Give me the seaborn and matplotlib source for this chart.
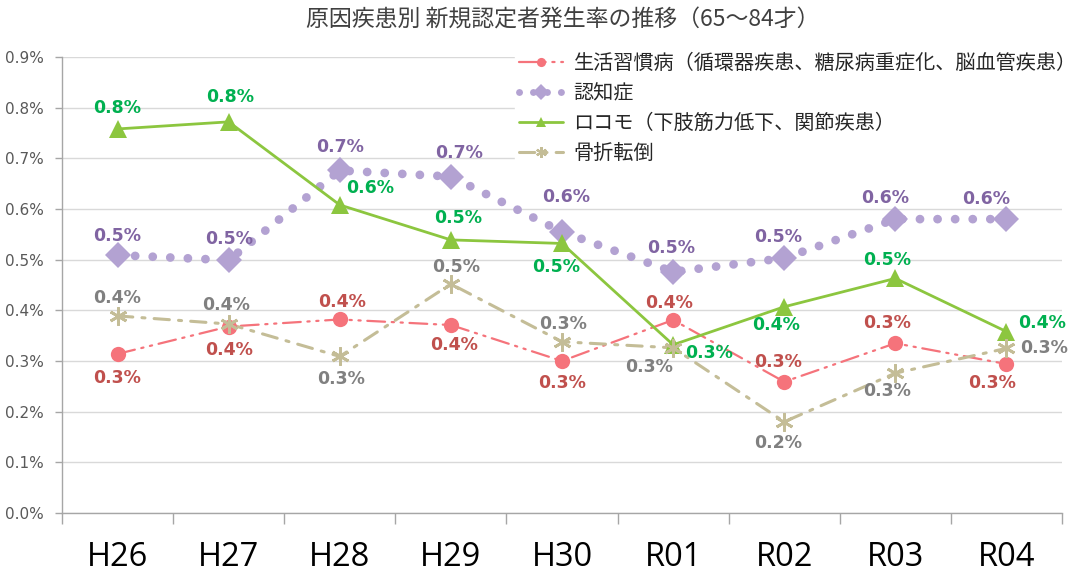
import matplotlib
matplotlib.use("Agg")
import matplotlib.pyplot as plt
from matplotlib.lines import Line2D
from matplotlib.ticker import FixedLocator, FuncFormatter
import seaborn as sns
import pandas as pd
import numpy as np

# ---- data ----
years = ["H26", "H27", "H28", "H29", "H30", "R01", "R02", "R03", "R04"]
lifestyle = [0.314, 0.368, 0.382, 0.371, 0.300, 0.381, 0.259, 0.335, 0.294]
dementia = [0.509, 0.499, 0.676, 0.664, 0.555, 0.476, 0.503, 0.580, 0.580]
locomo = [0.758, 0.772, 0.608, 0.539, 0.532, 0.332, 0.407, 0.463, 0.358]
fracture = [0.389, 0.373, 0.309, 0.452, 0.338, 0.326, 0.180, 0.276, 0.325]
series_names = ["生活習慣病（循環器疾患、糖尿病重症化、脳血管疾患）", "認知症",
                "ロコモ（下肢筋力低下、関節疾患）", "骨折転倒"]
title = "原因疾患別 新規認定者発生率の推移（65～84才）"

# ---- label offsets (pixels) ----
off_life = [(0, -24), (0, -23), (2, 17), (3, -20), (0, -22), (-4, 17), (-6, 20), (-8, 20), (-14, -19)]
off_dem = [(0, 19), (0, 21), (0, 23), (8, 24), (4, 35), (-2, 24), (-6, 21), (-10, 21), (-20, 20)]
off_loc = [(0, 21), (1, 25), (30, 17), (7, 22), (-6, -24), (36, -8), (-8, -18), (-8, 18), (36, 9)]
off_fra = [(0, 18), (-3, 19), (1, -23), (5, 17), (1, 18), (-24, -19), (-6, -21), (-8, -18), (38, 0)]

sns.set_theme(style="white")
plt.rcParams['font.family'] = ['Noto Sans CJK JP', 'DejaVu Sans']

fig = plt.figure(figsize=(10.75, 5.79), dpi=100)
ax = fig.add_axes([62/1075, 1-513/579, 1000/1075, (513-57)/579])

x = np.arange(len(years))
styles = [
    dict(values=lifestyle, color="#F5737B", lcolor="#C0504D", marker="o", ms=11, lw=1.6,
         ls=(0, (8, 3, 1, 3, 1, 3)), mew=0, offs=off_life),
    dict(values=dementia, color="#B3A2D2", lcolor="#8064A2", marker="D", ms=13, lw=6.3,
         ls=(0, (0.01, 2.0)), mew=0, offs=off_dem),
    dict(values=locomo, color="#8CC63F", lcolor="#00B050", marker="^", ms=13, lw=2.0,
         ls="-", mew=0, offs=off_loc),
    dict(values=fracture, color="#C4BD97", lcolor="#808080", marker=(6, 2, 0), ms=13, lw=2.2,
         ls=(0, (5, 3, 1, 3)), mew=2, offs=off_fra),
]

handles = []
for name, st in zip(series_names, styles):
    df = pd.DataFrame({"x": x, "y": st["values"]})
    sns.lineplot(data=df, x="x", y="y", ax=ax, color=st["color"], lw=st["lw"],
                 linestyle=st["ls"], sort=False, legend=False, zorder=3,
                 dash_capstyle="round")
    ax.plot(x, st["values"], linestyle="none", marker=st["marker"], ms=st["ms"],
            color=st["color"], mec=st["color"], mew=st["mew"], zorder=4)
    for xi, v, (dx, dy) in zip(x, st["values"], st["offs"]):
        ax.annotate(f"{v:.1f}%", (xi, v), xytext=(dx, dy), textcoords="offset pixels",
                    ha="center", va="center", fontsize=12.5, fontweight="bold",
                    color=st["lcolor"], family=["DejaVu Sans"], zorder=5)
    handles.append(Line2D([0], [0], color=st["color"], lw=min(st["lw"], 2.5) if st["marker"] != "D" else 5,
                          linestyle=st["ls"], marker=st["marker"], ms=st["ms"] * 0.6,
                          mew=st["mew"] * 0.8, mec=st["color"], dash_capstyle="round"))

ax.set_xlim(-0.5, 8.5)
ax.set_ylim(0, 0.9)
ax.yaxis.set_major_locator(FixedLocator(np.round(np.arange(0, 0.91, 0.1), 1)))
ax.yaxis.set_major_formatter(FuncFormatter(lambda v, p: f"{v:.1f}%"))
ax.set_xticks(x)
ax.set_xticklabels(years, family=["Open Sans"])
ax.xaxis.set_minor_locator(FixedLocator(np.arange(-0.5, 9, 1)))
ax.tick_params(axis="x", which="major", length=0, labelsize=23.5, labelcolor="black", pad=20)
ax.tick_params(axis="x", which="minor", length=8, width=1, color="#a6a6a6", direction="out", bottom=True)
ax.tick_params(axis="y", length=5, width=1, color="#a6a6a6", direction="out", left=True,
               labelsize=11, labelcolor="#595959", pad=8)
for lab in ax.get_yticklabels():
    lab.set_family(["DejaVu Sans"])
ax.set_xlabel("")
ax.set_ylabel("")
ax.grid(axis="y", color="#d9d9d9", lw=1)
ax.set_axisbelow(True)
for s in ["top", "right"]:
    ax.spines[s].set_visible(False)
for s in ["left", "bottom"]:
    ax.spines[s].set_color("#a6a6a6")
    ax.spines[s].set_linewidth(1)

leg = fig.legend(handles, series_names, loc="upper left", bbox_to_anchor=(505/1075, 1-39/579),
                 frameon=True, fontsize=14.5, handlelength=2.2, labelspacing=0.45,
                 borderpad=0.2, handletextpad=0.5)
leg.get_frame().set_facecolor("white")
leg.get_frame().set_edgecolor("white")
leg.get_frame().set_alpha(1)
for t in leg.get_texts():
    t.set_color("#262626")

fig.text(563/1075, 1-20/579, title, ha="center", va="center", fontsize=16.5, color="#404040")

fig.savefig("out.png", dpi=100, facecolor="white")
